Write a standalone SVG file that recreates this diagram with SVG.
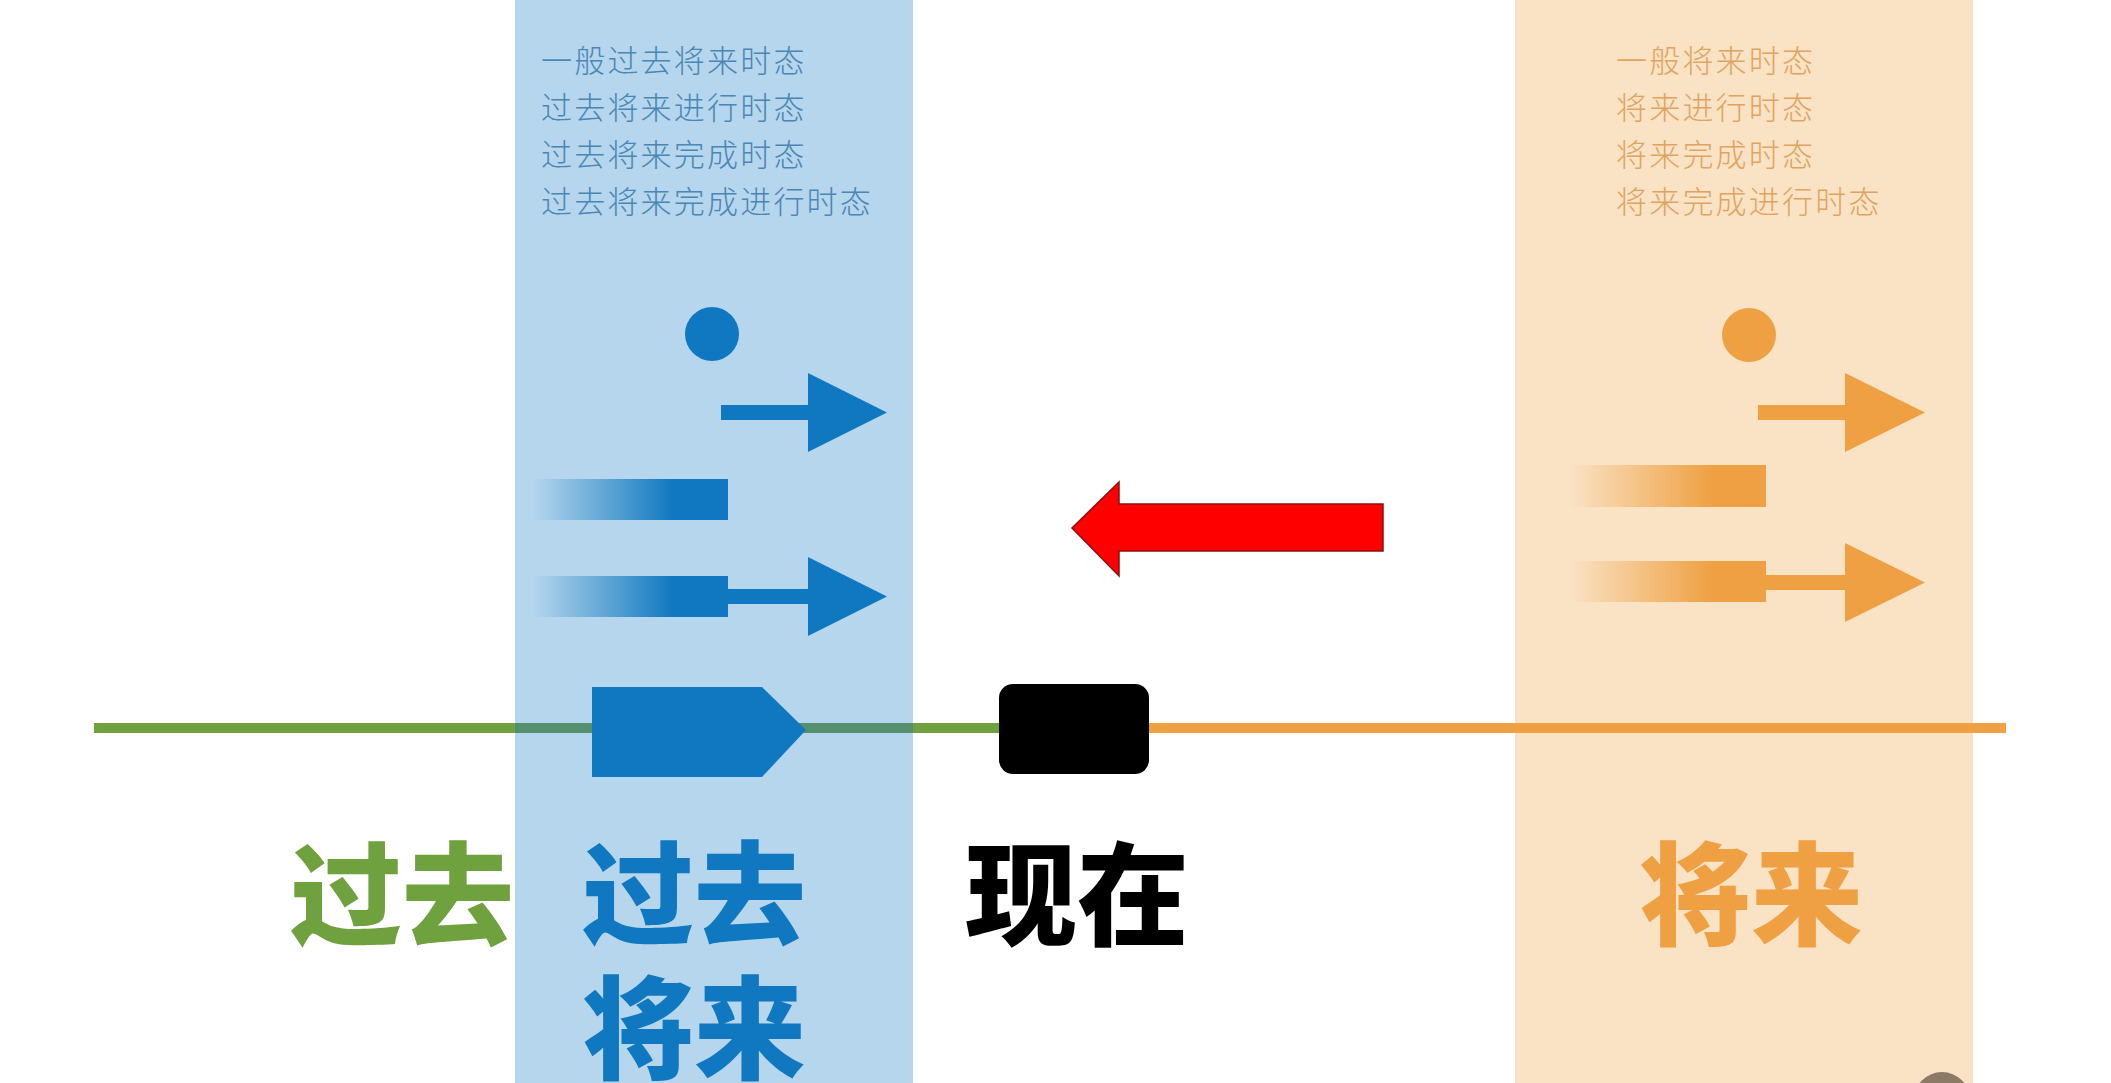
<svg xmlns="http://www.w3.org/2000/svg" width="2111" height="1083" viewBox="0 0 2111 1083">
<style>
.small{font-family:"Noto Sans CJK SC","Noto Sans",sans-serif;font-size:31px;font-weight:300;letter-spacing:2.2px}
.big{font-family:"Noto Sans CJK SC","Noto Sans",sans-serif;font-size:112px;font-weight:900}
.sb{fill:#4a86b6}
.so{fill:#dfa560}
</style>
<defs>
<linearGradient id="gb" x1="0" y1="0" x2="1" y2="0">
<stop offset="0" stop-color="#1078c0" stop-opacity="0"/>
<stop offset="0.72" stop-color="#1078c0" stop-opacity="1"/>
<stop offset="1" stop-color="#1078c0" stop-opacity="1"/>
</linearGradient>
<linearGradient id="go" x1="0" y1="0" x2="1" y2="0">
<stop offset="0" stop-color="#efa042" stop-opacity="0"/>
<stop offset="0.73" stop-color="#efa042" stop-opacity="1"/>
<stop offset="1" stop-color="#efa042" stop-opacity="1"/>
</linearGradient>
</defs>
<rect width="2111" height="1083" fill="#ffffff"/>
<g id="band-past-future">
<rect x="515" y="0" width="398" height="1083" fill="#b5d6ec"/>
</g>
<g id="band-future">
<rect x="1515" y="0" width="458" height="1083" fill="#fae2c5"/>
</g>
<g id="connectors">
<line x1="94" y1="728" x2="515" y2="728" stroke="#6fa23f" stroke-width="10"/>
<line x1="515" y1="728" x2="913" y2="728" stroke="#55906e" stroke-width="10"/>
<line x1="913" y1="728" x2="1000" y2="728" stroke="#6fa23f" stroke-width="10"/>
<line x1="1148" y1="728" x2="2006" y2="728" stroke="#efa042" stroke-width="10"/>
</g>
<g id="list-past-future">
<text class="small sb" x="541" y="72">一般过去将来时态</text>
<text class="small sb" x="541" y="119">过去将来进行时态</text>
<text class="small sb" x="541" y="166">过去将来完成时态</text>
<text class="small sb" x="541" y="213">过去将来完成进行时态</text>
</g>
<g id="list-future">
<text class="small so" x="1616" y="72">一般将来时态</text>
<text class="small so" x="1616" y="119">将来进行时态</text>
<text class="small so" x="1616" y="166">将来完成时态</text>
<text class="small so" x="1616" y="213">将来完成进行时态</text>
</g>
<g id="icons-past-future" fill="#1078c0">
<circle cx="712" cy="334" r="27"/>
<path d="M721 405 H808 V373 L887 412.5 L808 452 V420 H721 Z"/>
<rect x="533" y="479" width="195" height="41" fill="url(#gb)"/>
<rect x="533" y="576" width="195" height="41" fill="url(#gb)"/>
<path d="M727 589 H808 V557 L887 596.5 L808 636 V604 H727 Z"/>
</g>
<g id="icons-future" fill="#efa042">
<circle cx="1749" cy="335" r="27"/>
<path d="M1758 405 H1845 V373 L1925 412.5 L1845 452 V420 H1758 Z"/>
<rect x="1570" y="465" width="196" height="42" fill="url(#go)"/>
<rect x="1570" y="561" width="196" height="41" fill="url(#go)"/>
<path d="M1765 575 H1845 V543 L1925 582.5 L1845 622 V590 H1765 Z"/>
</g>
<g id="red-arrow">
<path d="M1383 504 V551 H1119 V576 L1072 528 L1119 482 V504 Z" fill="#ff0000" stroke="#8a1010" stroke-width="1.5"/>
</g>
<g id="marker-past-future">
<path d="M592 687 H762 L806 730 L762 777 H592 Z" fill="#1078c0"/>
</g>
<g id="marker-now">
<rect x="999" y="684" width="150" height="90" rx="14" ry="14" fill="#000000"/>
</g>
<g id="label-past">
<text class="big" x="290" y="937" fill="#6fa23f">过去</text>
</g>
<g id="label-past-future">
<text class="big" x="582" y="936" fill="#1078c0">过去</text>
<text class="big" x="582" y="1071" fill="#1078c0">将来</text>
</g>
<g id="label-now">
<text class="big" x="965" y="937" fill="#000000">现在</text>
</g>
<g id="label-future">
<text class="big" x="1639" y="937" fill="#efa042">将来</text>
</g>
<g id="watermark">
<circle cx="1942" cy="1100" r="28" fill="#8c7a66"/>
</g>
</svg>
